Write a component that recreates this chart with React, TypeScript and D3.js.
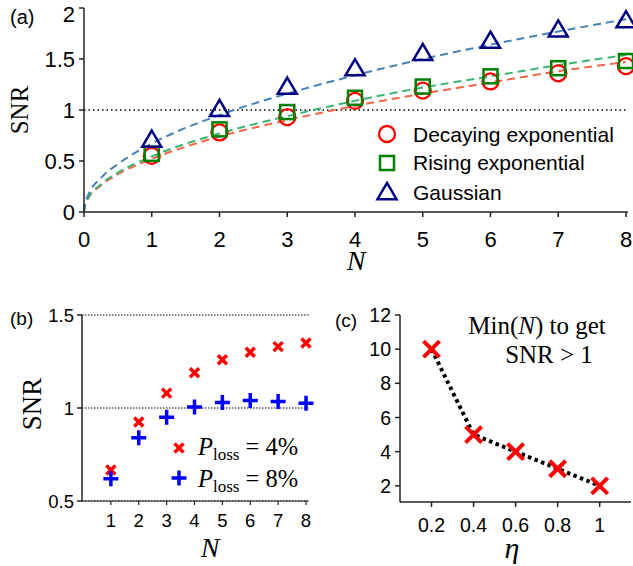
import React from 'react'
import * as d3 from 'd3'

// panel (a): measured SNR vs N
const nVals = [1, 2, 3, 4, 5, 6, 7, 8]
const decaying = [0.55, 0.78, 0.93, 1.09, 1.19, 1.28, 1.36, 1.43]
const rising = [0.57, 0.81, 0.98, 1.12, 1.23, 1.33, 1.41, 1.48]
const gaussian = [0.71, 1.01, 1.23, 1.41, 1.56, 1.68, 1.79, 1.88]

// dashed fit curves
const fitN = [0, 0.015, 0.06, 0.25, 0.5, 1, 2, 3, 4, 5, 6, 7, 8]
const fitDecaying = [0, 0.065, 0.13, 0.26, 0.37, 0.52, 0.74, 0.9, 1.04, 1.16, 1.27, 1.38, 1.47]
const fitRising = [0, 0.066, 0.133, 0.272, 0.385, 0.545, 0.77, 0.94, 1.09, 1.22, 1.33, 1.44, 1.54]
const fitGaussian = [0, 0.082, 0.164, 0.335, 0.47, 0.67, 0.95, 1.16, 1.34, 1.5, 1.64, 1.77, 1.89]

// panel (b): loss
const loss4 = [0.667, 0.925, 1.08, 1.19, 1.26, 1.3, 1.33, 1.35]
const loss8 = [0.62, 0.84, 0.95, 1.005, 1.03, 1.04, 1.035, 1.025]

// panel (c): min N for SNR > 1
const eta = [0.2, 0.4, 0.6, 0.8, 1]
const minN = [10, 5, 4, 3, 2]

const sans = 'Liberation Sans, Arial, Helvetica, sans-serif'
const serif = 'Liberation Serif, Times New Roman, serif'
const axisCol = '#222'

export default function App() {
  // ---------- (a)
  const xa = d3.scaleLinear().domain([0, 8]).range([84, 626])
  const ya = d3.scaleLinear().domain([0, 2]).range([212, 8])
  const fitLine = (vals: number[]) =>
    d3.line<number>().x((_, i) => xa(fitN[i])).y(d => ya(d)).curve(d3.curveMonotoneX)(vals) || ''
  const fits = [
    { vals: fitDecaying, col: '#f4664a' },
    { vals: fitRising, col: '#3cb371' },
    { vals: fitGaussian, col: '#4682b4' },
  ]
  const tri = (cx: number, cy: number, s: number) =>
    `M${cx},${cy - s * 0.95}L${cx + s},${cy + s * 0.75}L${cx - s},${cy + s * 0.75}Z`

  // ---------- (b)
  const xb = d3.scaleLinear().domain([0, 8]).range([83, 306])
  const yb = d3.scaleLinear().domain([0.5, 1.5]).range([501, 315])

  // ---------- (c)
  const xc = d3.scaleLinear().domain([0.05, 1.13]).range([400, 627])
  const yc = d3.scaleLinear().domain([0, 12]).range([520, 315])
  const cLine = d3.line<number>().x((_, i) => xc(eta[i])).y(d => yc(d))(minN) || ''

  const cross = (cx: number, cy: number, s: number) => `M${cx - s},${cy - s}L${cx + s},${cy + s}M${cx - s},${cy + s}L${cx + s},${cy - s}`
  const plus = (cx: number, cy: number, s: number) => `M${cx - s},${cy}L${cx + s},${cy}M${cx},${cy - s}L${cx},${cy + s}`

  return (
    <svg width={633} height={566} style={{ position: 'absolute', left: 0, top: 0, background: '#fff' }}>
      {/* ================= (a) ================= */}
      <text x={10} y={24} fontFamily={sans} fontSize={20}>(a)</text>
      <line x1={xa(0)} x2={xa(8)} y1={ya(1)} y2={ya(1)} stroke="#000" strokeWidth={1.5} strokeDasharray="1.5 3" />
      {fits.map((f, i) => (
        <path key={i} d={fitLine(f.vals)} fill="none" stroke={f.col} strokeWidth={2} strokeDasharray="8 5" />
      ))}
      <line x1={84} x2={84} y1={ya(2)} y2={ya(0)} stroke={axisCol} strokeWidth={1.5} />
      <line x1={84} x2={628} y1={212} y2={212} stroke={axisCol} strokeWidth={1.5} />
      {ya.ticks(4).map(t => (
        <g key={t}>
          <line x1={79} x2={84} y1={ya(t)} y2={ya(t)} stroke={axisCol} strokeWidth={1.5} />
          <text x={75} y={Math.max(ya(t) + 8, 22)} textAnchor="end" fontFamily={sans} fontSize={22}>{t}</text>
        </g>
      ))}
      {d3.range(0, 9).map(t => (
        <g key={t}>
          <line x1={xa(t)} x2={xa(t)} y1={212} y2={217} stroke={axisCol} strokeWidth={1.5} />
          <text x={xa(t)} y={247} textAnchor="middle" fontFamily={sans} fontSize={22}>{t}</text>
        </g>
      ))}
      <text transform={`translate(28,110) rotate(-90)`} textAnchor="middle" fontFamily={serif} fontSize={25}>SNR</text>
      <text x={356} y={270} textAnchor="middle" fontFamily={serif} fontStyle="italic" fontSize={28}>N</text>
      {nVals.map((n, i) => (
        <circle key={'c' + n} cx={xa(n)} cy={ya(decaying[i])} r={8} fill="none" stroke="#ff0000" strokeWidth={2.3} />
      ))}
      {nVals.map((n, i) => (
        <rect key={'s' + n} x={xa(n) - 7} y={ya(rising[i]) - 7} width={14} height={14} fill="none" stroke="#008000" strokeWidth={2.5} />
      ))}
      {nVals.map((n, i) => (
        <path key={'t' + n} d={tri(xa(n), ya(gaussian[i]), 9.5)} fill="none" stroke="#000080" strokeWidth={2.5} />
      ))}
      {/* legend */}
      <circle cx={387} cy={134} r={8} fill="none" stroke="#ff0000" strokeWidth={2.3} />
      <text x={413} y={142} fontFamily={sans} fontSize={21}>Decaying exponential</text>
      <rect x={380} y={156} width={14} height={14} fill="none" stroke="#008000" strokeWidth={2.5} />
      <text x={413} y={170} fontFamily={sans} fontSize={21}>Rising exponential</text>
      <path d={tri(387, 192, 9.5)} fill="none" stroke="#000080" strokeWidth={2.5} />
      <text x={413} y={200} fontFamily={sans} fontSize={21}>Gaussian</text>

      {/* ================= (b) ================= */}
      <text x={10} y={325} fontFamily={sans} fontSize={19}>(b)</text>
      {[1.5, 1, 0.5].map(t => (
        <line key={t} x1={82} x2={310} y1={yb(t)} y2={yb(t)} stroke="#000" strokeWidth={1} strokeDasharray="1.5 1.5" />
      ))}
      <line x1={82} x2={82} y1={yb(1.5)} y2={yb(0.5)} stroke={axisCol} strokeWidth={1.5} />
      <line x1={82} x2={308} y1={501} y2={501} stroke={axisCol} strokeWidth={1.2} />
      {[0.5, 1, 1.5].map(t => (
        <g key={t}>
          <line x1={77} x2={82} y1={yb(t)} y2={yb(t)} stroke={axisCol} strokeWidth={1.5} />
          <text x={74} y={yb(t) + 6.5} textAnchor="end" fontFamily={sans} fontSize={18.5}>{t}</text>
        </g>
      ))}
      {nVals.map(t => (
        <g key={t}>
          <line x1={xb(t)} x2={xb(t)} y1={501} y2={505} stroke={axisCol} strokeWidth={1.2} />
          <text x={xb(t)} y={527} textAnchor="middle" fontFamily={sans} fontSize={18.5}>{t}</text>
        </g>
      ))}
      <text transform={`translate(41,404) rotate(-90)`} textAnchor="middle" fontFamily={serif} fontSize={27}>SNR</text>
      <text x={210} y={557} textAnchor="middle" fontFamily={serif} fontStyle="italic" fontSize={28}>N</text>
      {nVals.map((n, i) => (
        <path key={'x' + n} d={cross(xb(n), yb(loss4[i]), 4.5)} stroke="#ff0000" strokeWidth={3.5} fill="none" />
      ))}
      {nVals.map((n, i) => (
        <path key={'p' + n} d={plus(xb(n), yb(loss8[i]), 7.5)} stroke="#0000ff" strokeWidth={3.5} fill="none" />
      ))}
      <path d={cross(179, 448, 4.5)} stroke="#ff0000" strokeWidth={3.5} fill="none" />
      <path d={plus(179, 478, 7.5)} stroke="#0000ff" strokeWidth={3.5} fill="none" />
      <text x={198} y={455} fontFamily={serif} fontSize={24.5}>
        <tspan fontStyle="italic">P</tspan><tspan dy={5} fontSize={17}>loss</tspan><tspan dy={-5}> = 4%</tspan>
      </text>
      <text x={198} y={487} fontFamily={serif} fontSize={24.5}>
        <tspan fontStyle="italic">P</tspan><tspan dy={5} fontSize={17}>loss</tspan><tspan dy={-5}> = 8%</tspan>
      </text>

      {/* ================= (c) ================= */}
      <text x={335} y={327} fontFamily={sans} fontSize={19}>(c)</text>
      <line x1={400} x2={400} y1={yc(12)} y2={502} stroke={axisCol} strokeWidth={1.5} />
      <line x1={400} x2={631} y1={502} y2={502} stroke={axisCol} strokeWidth={1.5} />
      {d3.range(2, 13, 2).map(t => (
        <g key={t}>
          <line x1={395} x2={400} y1={yc(t)} y2={yc(t)} stroke={axisCol} strokeWidth={1.5} />
          <text x={391} y={yc(t) + 7} textAnchor="end" fontFamily={sans} fontSize={19.5}>{t}</text>
        </g>
      ))}
      {eta.map(t => (
        <g key={t}>
          <line x1={xc(t)} x2={xc(t)} y1={502} y2={507} stroke={axisCol} strokeWidth={1.5} />
          <text x={xc(t)} y={532} textAnchor="middle" fontFamily={sans} fontSize={19.5}>{t}</text>
        </g>
      ))}
      <text x={512} y={558} textAnchor="middle" fontFamily={serif} fontStyle="italic" fontSize={30}>η</text>
      <path d={cLine} fill="none" stroke="#000" strokeWidth={4} strokeDasharray="3.5 3.5" />
      {eta.map((e, i) => (
        <path key={e} d={cross(xc(e), yc(minN[i]), 8)} stroke="#ff0000" strokeWidth={4} fill="none" />
      ))}
      <text x={537} y={334} textAnchor="middle" fontFamily={serif} fontSize={25}>
        Min(<tspan fontStyle="italic">N</tspan>) to get
      </text>
      <text x={549} y={363} textAnchor="middle" fontFamily={serif} fontSize={25}>SNR &gt; 1</text>
    </svg>
  )
}
